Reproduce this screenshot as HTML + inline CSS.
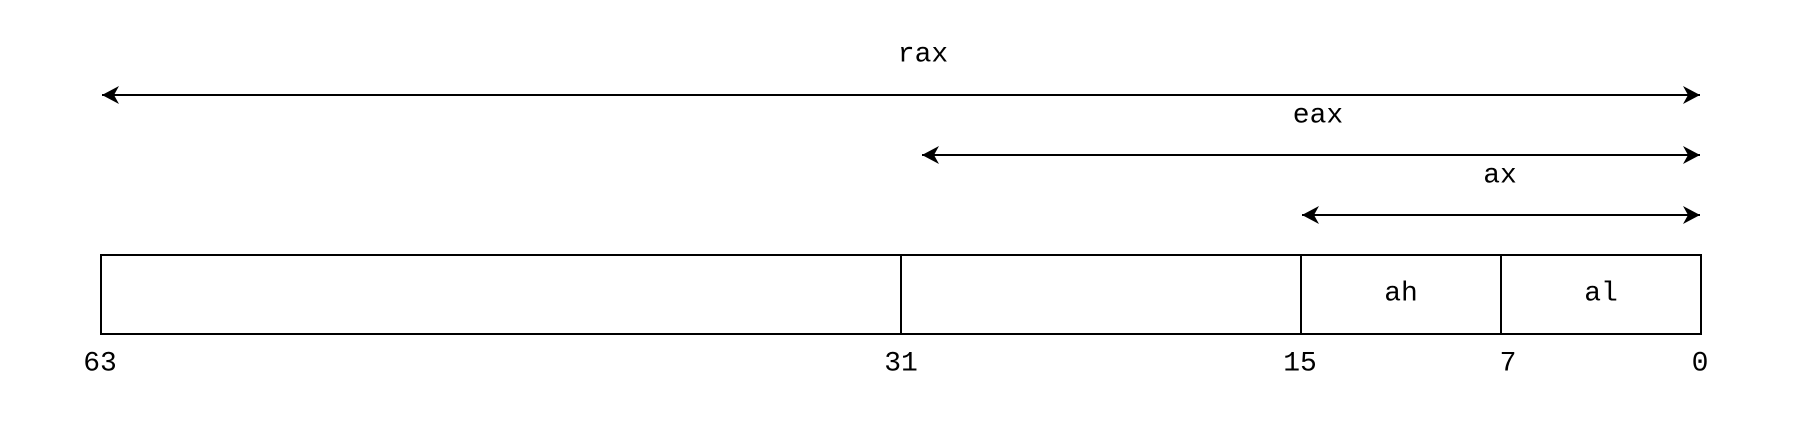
<!DOCTYPE html>
<html><head><meta charset="utf-8"><style>
html,body{margin:0;padding:0;background:#fff;}
svg{display:block;}
text{font-family:"Liberation Mono",monospace;font-size:28px;fill:#000;}
</style></head><body>
<svg width="1800" height="436" viewBox="0 0 1800 436" xmlns="http://www.w3.org/2000/svg">
<defs>
<marker id="a" viewBox="0 0 20 20" refX="18" refY="10" markerWidth="20" markerHeight="20" markerUnits="userSpaceOnUse" orient="auto-start-reverse">
<path d="M18,10 L1,1 L6,10 L1,19 Z" fill="#000"/>
</marker>
</defs>
<g stroke="#000" stroke-width="2" fill="none">
<line x1="102" y1="95" x2="1700" y2="95" marker-start="url(#a)" marker-end="url(#a)"/>
<line x1="922" y1="155" x2="1700" y2="155" marker-start="url(#a)" marker-end="url(#a)"/>
<line x1="1302" y1="215" x2="1700" y2="215" marker-start="url(#a)" marker-end="url(#a)"/>
<rect x="101" y="255" width="1600" height="79"/>
<line x1="901" y1="255" x2="901" y2="334"/>
<line x1="1301" y1="255" x2="1301" y2="334"/>
<line x1="1501" y1="255" x2="1501" y2="334"/>
</g>
<g text-anchor="middle" dominant-baseline="central">
<text x="923" y="55">rax</text>
<text x="1318" y="116">eax</text>
<text x="1500" y="176">ax</text>
<text x="1401" y="294">ah</text>
<text x="1601" y="294">al</text>
<text x="100" y="364">63</text>
<text x="901" y="364">31</text>
<text x="1300" y="364">15</text>
<text x="1508" y="364">7</text>
<text x="1700" y="364">0</text>
</g>
</svg>
</body></html>
